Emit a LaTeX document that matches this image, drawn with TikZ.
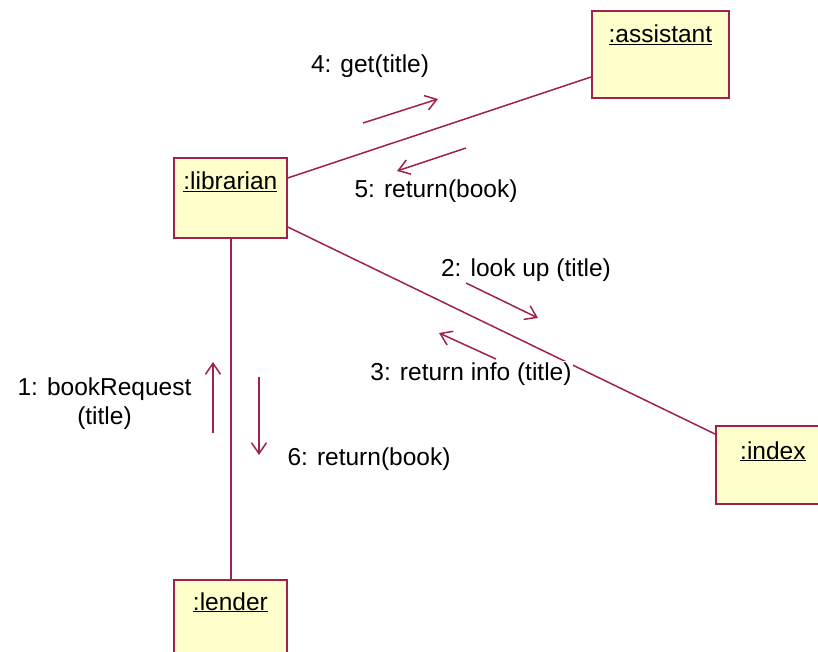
\documentclass[tikz,border=0pt]{standalone}
\usepackage{fontspec}
\setmainfont{Liberation Sans}
\usetikzlibrary{arrows.meta,calc}
\definecolor{umlline}{RGB}{160,32,80}
\definecolor{umlfill}{RGB}{255,255,204}
\begin{document}
\begin{tikzpicture}[x=1pt,y=-1pt,
  objbox/.style={draw=umlline, fill=umlfill, line width=1.8pt, anchor=north west, inner sep=0pt},
  link/.style={draw=umlline, line width=1.5pt},
  msg/.style={draw=umlline, line width=1.5pt, -{Straight Barb[length=11pt,width=15pt,line width=1.5pt]}},
  lbl/.style={font=\fontsize{24.5}{29}\selectfont, anchor=base, fill=white, inner sep=1pt},
  ttl/.style={font=\fontsize{24.5}{29}\selectfont, anchor=base, inner sep=0pt}]
\useasboundingbox (0,0) rectangle (818,652);
\clip (0,0) rectangle (818,652);
\fill[white] (0,0) rectangle (818,652);
% objects
\node[objbox, minimum width=113pt, minimum height=80pt,
      label={[ttl, yshift=-33pt]north:\underline{:librarian}}] (lib) at (173,157) {};
\node[objbox, minimum width=137pt, minimum height=87pt,
      label={[ttl, yshift=-33pt]north:\underline{:assistant}}] (asst) at (591,10) {};
\node[objbox, minimum width=114pt, minimum height=78pt,
      label={[ttl, yshift=-34pt]north:\underline{:index}}] (idx) at (715,425) {};
\node[objbox, minimum width=113pt, minimum height=85pt,
      label={[ttl, yshift=-31pt]north:\underline{:lender}}] (lend) at (173,579) {};
% links
\draw[link] ($(lib.north east)+(0,21)$) -- ($(asst.north west)+(0,67)$);
\draw[link] ($(lib.north east)+(0,70)$) -- ($(idx.north west)+(0,9)$);
\draw[link] ($(lib.south)+(0.5,0)$) -- ($(lend.north)+(0.5,0)$);
% message labels
\node[lbl] (l4) at (370,73) {4: get(title)};
\node[lbl] (l5) at (436,198) {5: return(book)};
\node[lbl] (l2) at (526,276) {2: look up (title)};
\node[lbl] (l3) at (471,380) {3: return info (title)};
\node[lbl] (l6) at (369,465) {6: return(book)};
\node[lbl, align=center] (l1) at (104.5,424) {1: bookRequest\\(title)};
% message arrows
\coordinate (m4s) at (363,123); \coordinate (m4e) at (438,99);
\coordinate (m5s) at (466,148); \coordinate (m5e) at (397,171);
\coordinate (m2s) at (466,283); \coordinate (m2e) at (538,318);
\coordinate (m3s) at (496,359); \coordinate (m3e) at (439,333);
\coordinate (m1s) at (213,433); \coordinate (m1e) at (213,362);
\coordinate (m6s) at (259,377); \coordinate (m6e) at (259,455);
\draw[msg] (m4s) -- (m4e);
\draw[msg] (m5s) -- (m5e);
\draw[msg] (m2s) -- (m2e);
\draw[msg] (m3s) -- (m3e);
\draw[msg] (m1s) -- (m1e);
\draw[msg] (m6s) -- (m6e);
\end{tikzpicture}
\end{document}
